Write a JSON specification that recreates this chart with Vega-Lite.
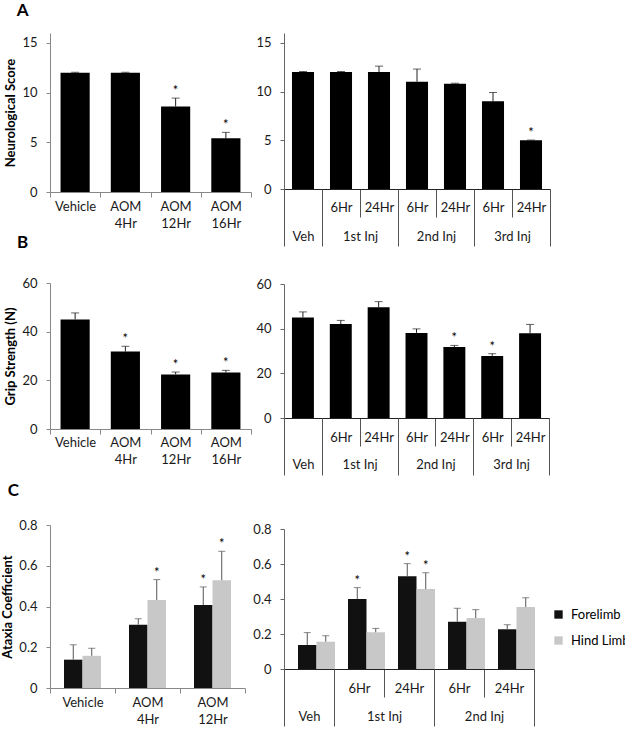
{
  "$schema": "https://vega.github.io/schema/vega-lite/v6.json",
  "background": "white",
  "padding": {"left": 1, "top": 2, "right": 0, "bottom": 0},
  "title": {"text": "A", "offset": 13, "dx": 15},
  "config": {
    "view": {"stroke": null},
    "font": "Lato",
    "title": {"font": "Lato", "fontSize": 17, "fontWeight": "bold", "anchor": "start", "color": "#000"},
    "axis": {"labelFont": "Lato", "labelFontSize": 13, "labelColor": "#1a1a1a", "titleFont": "Lato", "titleFontSize": 13, "titleFontWeight": "bold", "titleColor": "#000", "grid": false, "domainColor": "#888", "tickColor": "#888", "tickSize": 4, "labelPadding": 9, "titlePadding": 4}
  },
  "resolve": {"scale": {"color": "independent"}, "legend": {"color": "independent"}},
  "spacing": 0,
  "hconcat": [
    {
      "spacing": 3,
      "resolve": {"scale": {"color": "independent"}, "legend": {"color": "independent"}},
      "vconcat": [
        {
          "width": 201, "height": 159,
          "data": {"values": [
            {"cat": "Vehicle", "value": 12, "upper": 12.05, "sig": ""},
            {"cat": "AOM 4Hr", "value": 12, "upper": 12.05, "sig": ""},
            {"cat": "AOM 12Hr", "value": 8.6, "upper": 9.45, "sig": "*"},
            {"cat": "AOM 16Hr", "value": 5.4, "upper": 6.0, "sig": "*"}
          ]},
          "encoding": {
            "x": {"field": "cat", "type": "nominal", "sort": null, "scale": {"paddingInner": 0, "paddingOuter": 0},
              "axis": {"title": null, "labelAngle": 0, "tickBand": "extent", "tickSize": 5, "labelPadding": 3, "labelExpr": "isValid(datum.value) ? split(datum.value, ' ') : ''", "labelLineHeight": 17}}
          },
          "layer": [
            {"mark": {"type": "bar", "color": "#000", "width": {"band": 0.58}},
             "encoding": {"y": {"field": "value", "type": "quantitative", "scale": {"domain": [0, 15]}, "axis": {"title": "Neurological Score", "values": [0, 5, 10, 15]}}}},
            {"mark": {"type": "rule", "color": "#222"},
             "encoding": {"y": {"field": "value", "type": "quantitative", "title": "Neurological Score"}, "y2": {"field": "upper"}}},
            {"mark": {"type": "tick", "color": "#222", "size": 8, "thickness": 1},
             "encoding": {"y": {"field": "upper", "type": "quantitative", "title": "Neurological Score"}}},
            {"mark": {"type": "text", "baseline": "alphabetic", "dy": -3, "fontSize": 13, "color": "#000"},
             "encoding": {"y": {"field": "upper", "type": "quantitative", "title": "Neurological Score"}, "text": {"field": "sig"}}}
          ]
        },
        {
          "width": 201, "height": 146,
          "title": {"text": "B", "offset": 25.5, "dx": 12},
          "data": {"values": [
            {"cat": "Vehicle", "value": 45, "upper": 47.7, "sig": ""},
            {"cat": "AOM 4Hr", "value": 31.8, "upper": 34.0, "sig": "*"},
            {"cat": "AOM 12Hr", "value": 22.4, "upper": 23.4, "sig": "*"},
            {"cat": "AOM 16Hr", "value": 23.2, "upper": 24.1, "sig": "*"}
          ]},
          "encoding": {
            "x": {"field": "cat", "type": "nominal", "sort": null, "scale": {"paddingInner": 0, "paddingOuter": 0},
              "axis": {"title": null, "labelAngle": 0, "tickBand": "extent", "tickSize": 5, "labelPadding": 2.2, "labelExpr": "isValid(datum.value) ? split(datum.value, ' ') : ''", "labelLineHeight": 17}}
          },
          "layer": [
            {"mark": {"type": "bar", "color": "#000", "width": {"band": 0.58}},
             "encoding": {"y": {"field": "value", "type": "quantitative", "scale": {"domain": [0, 60]}, "axis": {"title": "Grip Strength (N)", "values": [0, 20, 40, 60]}}}},
            {"mark": {"type": "rule", "color": "#222"},
             "encoding": {"y": {"field": "value", "type": "quantitative", "title": "Grip Strength (N)"}, "y2": {"field": "upper"}}},
            {"mark": {"type": "tick", "color": "#222", "size": 8, "thickness": 1},
             "encoding": {"y": {"field": "upper", "type": "quantitative", "title": "Grip Strength (N)"}}},
            {"mark": {"type": "text", "baseline": "alphabetic", "dy": -3, "fontSize": 13, "color": "#000"},
             "encoding": {"y": {"field": "upper", "type": "quantitative", "title": "Grip Strength (N)"}, "text": {"field": "sig"}}}
          ]
        },
        {
          "width": 195, "height": 163,
          "title": {"text": ["", "C"], "lineHeight": 11, "offset": 19.5, "dx": 6},
          "data": {"values": [
            {"cat": "Vehicle", "limb": "Forelimb", "value": 0.139, "upper": 0.212, "sig": ""},
            {"cat": "Vehicle", "limb": "Hind Limb", "value": 0.158, "upper": 0.195, "sig": ""},
            {"cat": "AOM 4Hr", "limb": "Forelimb", "value": 0.311, "upper": 0.340, "sig": ""},
            {"cat": "AOM 4Hr", "limb": "Hind Limb", "value": 0.432, "upper": 0.532, "sig": "*"},
            {"cat": "AOM 12Hr", "limb": "Forelimb", "value": 0.407, "upper": 0.496, "sig": "*"},
            {"cat": "AOM 12Hr", "limb": "Hind Limb", "value": 0.529, "upper": 0.671, "sig": "*"}
          ]},
          "encoding": {
            "x": {"field": "cat", "type": "nominal", "sort": null, "scale": {"paddingInner": 0, "paddingOuter": 0},
              "axis": {"title": null, "labelAngle": 0, "tickBand": "extent", "tickSize": 5, "labelPadding": 3.5, "labelExpr": "isValid(datum.value) ? split(datum.value, ' ') : ''", "labelLineHeight": 17}},
            "xOffset": {"field": "limb", "type": "nominal", "sort": null, "scale": {"paddingInner": 0, "paddingOuter": 0.757}}
          },
          "layer": [
            {"mark": {"type": "bar"},
             "encoding": {
               "y": {"field": "value", "type": "quantitative", "scale": {"domain": [0, 0.8]}, "axis": {"title": "Ataxia Coefficient", "values": [0, 0.2, 0.4, 0.6, 0.8], "format": ".1~f"}},
               "color": {"field": "limb", "type": "nominal", "sort": null, "scale": {"domain": ["Forelimb", "Hind Limb"], "range": ["#111111", "#c8c8c8"]}, "legend": null}}},
            {"mark": {"type": "rule", "color": "#555"},
             "encoding": {"y": {"field": "value", "type": "quantitative", "title": "Ataxia Coefficient"}, "y2": {"field": "upper"}}},
            {"mark": {"type": "tick", "color": "#555", "size": 7, "thickness": 1},
             "encoding": {"y": {"field": "upper", "type": "quantitative", "title": "Ataxia Coefficient"}}},
            {"mark": {"type": "text", "baseline": "alphabetic", "dy": -3, "fontSize": 13, "color": "#000"},
             "encoding": {"y": {"field": "upper", "type": "quantitative", "title": "Ataxia Coefficient"}, "text": {"field": "sig"}}}
          ]
        }
      ]
    },
    {
      "spacing": 31,
      "resolve": {"scale": {"color": "independent"}, "legend": {"color": "independent"}},
      "vconcat": [
        {
          "width": 266, "height": 156,
          "data": {"values": [
            {"cat": "Veh", "value": 12, "upper": 12.05, "sig": ""},
            {"cat": "1st Inj 6Hr", "value": 12, "upper": 12.05, "sig": ""},
            {"cat": "1st Inj 24Hr", "value": 12, "upper": 12.6, "sig": ""},
            {"cat": "2nd Inj 6Hr", "value": 11, "upper": 12.3, "sig": ""},
            {"cat": "2nd Inj 24Hr", "value": 10.8, "upper": 10.85, "sig": ""},
            {"cat": "3rd Inj 6Hr", "value": 9, "upper": 9.9, "sig": ""},
            {"cat": "3rd Inj 24Hr", "value": 5, "upper": 5.02, "sig": "*"}
          ]},
          "resolve": {"axis": {"x": "independent"}},
          "layer": [
            {"mark": {"type": "bar", "color": "#000", "width": {"band": 0.58}},
             "encoding": {
               "x": {"field": "cat", "type": "nominal", "sort": null, "scale": {"paddingInner": 0, "paddingOuter": 0},
                 "axis": {"title": null, "orient": "bottom", "labelAngle": 0, "domainColor": "#222", "tickColor": "#555", "tickBand": "extent", "tickSize": 28, "labelPadding": -16, "labelExpr": "isValid(datum.value) && datum.value != 'Veh' ? split(datum.value, ' ')[2] : ''"}},
               "y": {"field": "value", "type": "quantitative", "scale": {"domain": [0, 15]}, "axis": {"title": null, "values": [0, 5, 10, 15], "domainColor": "#666", "tickColor": "#666"}}}},
            {"mark": {"type": "rule", "color": "#222"},
             "encoding": {
               "x": {"field": "cat", "type": "nominal", "sort": null,
                 "axis": {"title": null, "orient": "bottom", "labelAngle": 0, "domain": false, "tickColor": "#555", "tickBand": "extent", "tickSize": 57, "tickOpacity": {"condition": {"test": "isValid(datum.value) && indexof(datum.value, ' 6Hr') >= 0", "value": 0}, "value": 1}, "labelPadding": -16, "labelExpr": "!isValid(datum.value) ? '' : datum.value == 'Veh' ? 'Veh' : indexof(datum.value, '24Hr') >= 0 ? slice(datum.value, 0, 7) : ''", "labelOffset": {"expr": "datum.value == 'Veh' ? 0 : -19"}}},
               "y": {"field": "value", "type": "quantitative"}, "y2": {"field": "upper"}}},
            {"mark": {"type": "tick", "color": "#222", "size": 8, "thickness": 1},
             "encoding": {"x": {"field": "cat", "type": "nominal", "sort": null, "axis": null}, "y": {"field": "upper", "type": "quantitative"}}},
            {"mark": {"type": "text", "baseline": "alphabetic", "dy": -3, "fontSize": 13, "color": "#000"},
             "encoding": {"x": {"field": "cat", "type": "nominal", "sort": null, "axis": null}, "y": {"field": "upper", "type": "quantitative"}, "text": {"field": "sig"}}}
          ]
        },
        {
          "width": 265, "height": 134,
          "data": {"values": [
            {"cat": "Veh", "value": 45, "upper": 47.5, "sig": ""},
            {"cat": "1st Inj 6Hr", "value": 42.1, "upper": 43.7, "sig": ""},
            {"cat": "1st Inj 24Hr", "value": 49.6, "upper": 52.1, "sig": ""},
            {"cat": "2nd Inj 6Hr", "value": 38.1, "upper": 39.9, "sig": ""},
            {"cat": "2nd Inj 24Hr", "value": 31.8, "upper": 32.5, "sig": "*"},
            {"cat": "3rd Inj 6Hr", "value": 27.8, "upper": 28.8, "sig": "*"},
            {"cat": "3rd Inj 24Hr", "value": 37.9, "upper": 41.9, "sig": ""}
          ]},
          "resolve": {"axis": {"x": "independent"}},
          "layer": [
            {"mark": {"type": "bar", "color": "#000", "width": {"band": 0.58}},
             "encoding": {
               "x": {"field": "cat", "type": "nominal", "sort": null, "scale": {"paddingInner": 0, "paddingOuter": 0},
                 "axis": {"title": null, "orient": "bottom", "labelAngle": 0, "domainColor": "#222", "tickColor": "#555", "tickBand": "extent", "tickSize": 28, "labelPadding": -14.5, "labelExpr": "isValid(datum.value) && datum.value != 'Veh' ? split(datum.value, ' ')[2] : ''"}},
               "y": {"field": "value", "type": "quantitative", "scale": {"domain": [0, 60]}, "axis": {"title": null, "values": [0, 20, 40, 60], "domainColor": "#666", "tickColor": "#666"}}}},
            {"mark": {"type": "rule", "color": "#222"},
             "encoding": {
               "x": {"field": "cat", "type": "nominal", "sort": null,
                 "axis": {"title": null, "orient": "bottom", "labelAngle": 0, "domain": false, "tickColor": "#555", "tickBand": "extent", "tickSize": 57, "tickOpacity": {"condition": {"test": "isValid(datum.value) && indexof(datum.value, ' 6Hr') >= 0", "value": 0}, "value": 1}, "labelPadding": -16.5, "labelExpr": "!isValid(datum.value) ? '' : datum.value == 'Veh' ? 'Veh' : indexof(datum.value, '24Hr') >= 0 ? slice(datum.value, 0, 7) : ''", "labelOffset": {"expr": "datum.value == 'Veh' ? 0 : -19"}}},
               "y": {"field": "value", "type": "quantitative"}, "y2": {"field": "upper"}}},
            {"mark": {"type": "tick", "color": "#222", "size": 8, "thickness": 1},
             "encoding": {"x": {"field": "cat", "type": "nominal", "sort": null, "axis": null}, "y": {"field": "upper", "type": "quantitative"}}},
            {"mark": {"type": "text", "baseline": "alphabetic", "dy": -3, "fontSize": 13, "color": "#000"},
             "encoding": {"x": {"field": "cat", "type": "nominal", "sort": null, "axis": null}, "y": {"field": "upper", "type": "quantitative"}, "text": {"field": "sig"}}}
          ]
        },
        {
          "width": 250, "height": 162,
          "data": {"values": [
            {"cat": "Veh", "limb": "Forelimb", "value": 0.137, "upper": 0.208, "sig": ""},
            {"cat": "Veh", "limb": "Hind Limb", "value": 0.156, "upper": 0.19, "sig": ""},
            {"cat": "1st Inj 6Hr", "limb": "Forelimb", "value": 0.40, "upper": 0.465, "sig": "*"},
            {"cat": "1st Inj 6Hr", "limb": "Hind Limb", "value": 0.21, "upper": 0.232, "sig": ""},
            {"cat": "1st Inj 24Hr", "limb": "Forelimb", "value": 0.53, "upper": 0.602, "sig": "*"},
            {"cat": "1st Inj 24Hr", "limb": "Hind Limb", "value": 0.457, "upper": 0.55, "sig": "*"},
            {"cat": "2nd Inj 6Hr", "limb": "Forelimb", "value": 0.27, "upper": 0.347, "sig": ""},
            {"cat": "2nd Inj 6Hr", "limb": "Hind Limb", "value": 0.291, "upper": 0.339, "sig": ""},
            {"cat": "2nd Inj 24Hr", "limb": "Forelimb", "value": 0.227, "upper": 0.253, "sig": ""},
            {"cat": "2nd Inj 24Hr", "limb": "Hind Limb", "value": 0.354, "upper": 0.407, "sig": ""}
          ]},
          "resolve": {"axis": {"x": "independent"}},
          "encoding": {
            "xOffset": {"field": "limb", "type": "nominal", "sort": null, "scale": {"paddingInner": 0, "paddingOuter": 0.351}}
          },
          "layer": [
            {"mark": {"type": "bar"},
             "encoding": {
               "x": {"field": "cat", "type": "nominal", "sort": null, "scale": {"paddingInner": 0, "paddingOuter": 0},
                 "axis": {"title": null, "orient": "bottom", "labelAngle": 0, "domainColor": "#222", "tickColor": "#555", "tickBand": "extent", "tickSize": 28, "labelPadding": -14.5, "labelExpr": "isValid(datum.value) && datum.value != 'Veh' ? split(datum.value, ' ')[2] : ''"}},
               "y": {"field": "value", "type": "quantitative", "scale": {"domain": [0, 0.8], "range": [162, 22]}, "axis": {"title": null, "values": [0, 0.2, 0.4, 0.6, 0.8], "format": ".1~f", "domainColor": "#666", "tickColor": "#666"}},
               "color": {"field": "limb", "type": "nominal", "sort": null, "scale": {"domain": ["Forelimb", "Hind Limb"], "range": ["#111111", "#c8c8c8"]},
                 "legend": {"title": null, "orient": "none", "legendX": 268, "legendY": 101, "symbolType": "square", "symbolSize": 70, "symbolStrokeWidth": 0, "labelFont": "Lato", "labelFontSize": 13, "labelColor": "#000", "labelOffset": 6, "rowPadding": 12, "padding": 0}}}},
            {"mark": {"type": "rule", "color": "#555"},
             "encoding": {
               "x": {"field": "cat", "type": "nominal", "sort": null,
                 "axis": {"title": null, "orient": "bottom", "labelAngle": 0, "domain": false, "tickColor": "#555", "tickBand": "extent", "tickSize": 57, "tickOpacity": {"condition": {"test": "isValid(datum.value) && indexof(datum.value, ' 6Hr') >= 0", "value": 0}, "value": 1}, "labelPadding": -15.5, "labelExpr": "!isValid(datum.value) ? '' : datum.value == 'Veh' ? 'Veh' : indexof(datum.value, '24Hr') >= 0 ? slice(datum.value, 0, 7) : ''", "labelOffset": {"expr": "datum.value == 'Veh' ? 0 : -25"}}},
               "y": {"field": "value", "type": "quantitative"}, "y2": {"field": "upper"}}},
            {"mark": {"type": "tick", "color": "#555", "size": 7, "thickness": 1},
             "encoding": {"x": {"field": "cat", "type": "nominal", "sort": null, "axis": null}, "y": {"field": "upper", "type": "quantitative"}}},
            {"mark": {"type": "text", "baseline": "alphabetic", "dy": -3, "fontSize": 13, "color": "#000"},
             "encoding": {"x": {"field": "cat", "type": "nominal", "sort": null, "axis": null}, "y": {"field": "upper", "type": "quantitative"}, "text": {"field": "sig"}}}
          ]
        }
      ]
    }
  ]
}
